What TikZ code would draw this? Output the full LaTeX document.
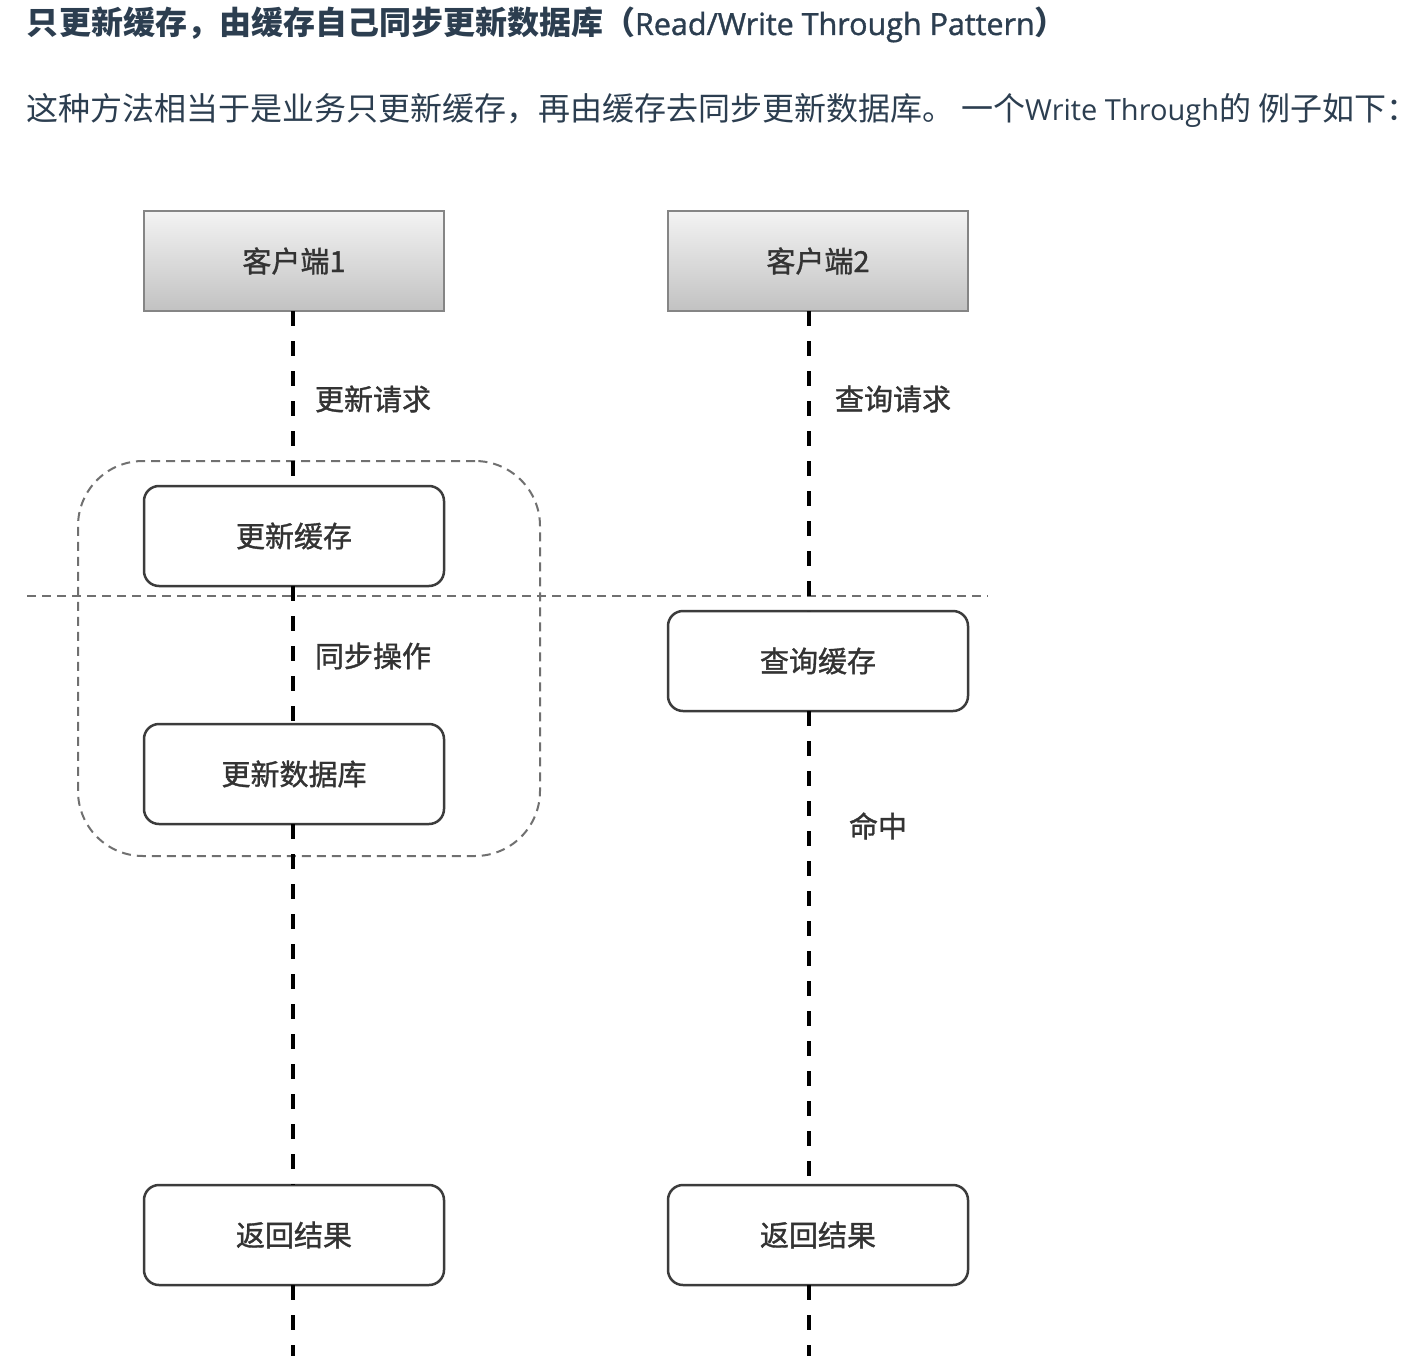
\documentclass[tikz,border=0pt]{standalone}
\usepackage{fontspec}
\setmainfont{Noto Sans CJK SC}
\newfontfamily\cjk{Noto Sans CJK SC}
\newfontfamily\cjkmed[FakeBold=1.2]{Noto Sans CJK SC}
\newfontfamily\lat{Open Sans}
\newfontfamily\latsemi[FakeBold=1.2]{Open Sans}
\definecolor{hdr}{RGB}{44,62,80}
\definecolor{clienttop}{RGB}{243,243,243}
\definecolor{clientbot}{RGB}{194,194,194}
\definecolor{clientborder}{RGB}{133,133,133}
\definecolor{procborder}{RGB}{60,60,60}
\definecolor{grpc}{RGB}{112,112,112}
\definecolor{labelc}{RGB}{51,51,51}
\newcommand{\dlabel}{\cjkmed\fontsize{29}{34}\selectfont}
\begin{document}
\begin{tikzpicture}[x=1pt,y=-1pt,
  every node/.style={inner sep=0pt, outer sep=0pt},
  client/.style={draw=clientborder, line width=2pt, top color=clienttop, bottom color=clientbot,
    minimum width=300pt, minimum height=100pt, font=\dlabel, text=labelc},
  proc/.style={draw=procborder, line width=2.5pt, rounded corners=15pt, fill=white,
    minimum width=300pt, minimum height=100pt, font=\dlabel, text=labelc},
  life/.style={line width=4pt, dash pattern=on 15pt off 15pt, black},
  grpline/.style={draw=grpc, line width=2pt, dash pattern=on 9pt off 6pt},
  lbl/.style={anchor=west, font=\dlabel, text=labelc}]
\useasboundingbox[fill=white] (0,0) rectangle (1420,1356);

% header text
\node[anchor=base west, text=hdr] (title) at (27,35)
  {{\cjk\bfseries\fontsize{32}{38}\selectfont 只更新缓存，由缓存自己同步更新数据库（}{\latsemi\fontsize{30.5}{36}\selectfont Read/Write Through Pattern}{\cjk\bfseries\fontsize{32}{38}\selectfont ）}};
\node[anchor=base west, text=hdr] (body) at (26,121)
  {{\cjk\fontsize{32}{38}\selectfont 这种方法相当于是业务只更新缓存，再由缓存去同步更新数据库。 一个}{\lat\fontsize{29}{36}\selectfont Write Through}{\cjk\fontsize{32}{38}\selectfont 的 例子如下：}};

% group box and separator
\node[grpline, rounded corners=65pt, minimum width=462pt, minimum height=395pt] (grp) at (309,658.5) {};
\coordinate (sepL) at (27,596);
\coordinate (sepR) at (988,596);
\draw[grpline] (sepL) -- (sepR);

% nodes
\node[client] (c1) at (294,261) {客户端1};
\node[client] (c2) at (818,261) {客户端2};
\node[proc] (uc) at (294,536) {更新缓存};
\node[proc] (udb) at (294,774) {更新数据库};
\node[proc] (qc) at (818,661) {查询缓存};
\node[proc] (r1) at (294,1235) {返回结果};
\node[proc] (r2) at (818,1235) {返回结果};
\coordinate (end1) at (293,1356);
\coordinate (end2) at (809,1356);

% lifelines
\draw[life] ([xshift=-1pt]c1.south) -- ([xshift=-1pt]uc.north);
\draw[life] ([xshift=-1pt]uc.south) -- ([xshift=-1pt]udb.north);
\draw[life] ([xshift=-1pt]udb.south) -- ([xshift=-1pt]r1.north);
\draw[life] ([xshift=-1pt]r1.south) -- (end1);
\draw[life] ([xshift=-9pt]c2.south) -- ([xshift=-9pt]qc.north);
\draw[life] ([xshift=-9pt]qc.south) -- ([xshift=-9pt]r2.north);
\draw[life] ([xshift=-9pt]r2.south) -- (end2);

% labels
\node[lbl] (l1) at (315,399) {更新请求};
\node[lbl] (l2) at (835,399) {查询请求};
\node[lbl] (l3) at (315,656) {同步操作};
\node[lbl] (l4) at (849,826) {命中};
\end{tikzpicture}
\end{document}
